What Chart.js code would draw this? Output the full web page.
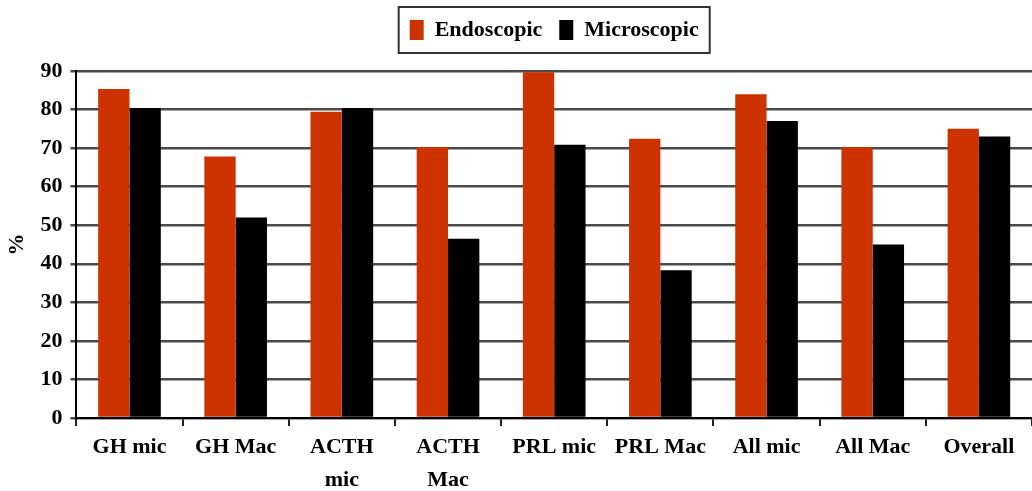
<!DOCTYPE html>
<html>
<head>
<meta charset="utf-8">
<script src="https://cdn.jsdelivr.net/npm/chart.js@4/dist/chart.umd.min.js"></script>
<style>
  html, body { margin: 0; padding: 0; background: #fff; }
  #wrap { width: 1032px; height: 491px; position: relative; }
</style>
</head>
<body>
<div id="wrap"><canvas id="myChart"></canvas></div>
<script>
// categories (multi-line labels as arrays)
const categories = ['GH mic', 'GH Mac', ['ACTH', 'mic'], ['ACTH', 'Mac'], 'PRL mic', 'PRL Mac', 'All mic', 'All Mac', 'Overall'];
// series values (%)
const endoscopic = [85.3, 67.8, 79.4, 70.3, 89.7, 72.4, 84, 70.3, 75];
const microscopic = [80.4, 52, 80.4, 46.5, 70.9, 38.3, 77, 45, 73];
const yTicks = [0, 10, 20, 30, 40, 50, 60, 70, 80, 90];

const serif = '"Liberation Serif", "Times New Roman", serif';

// extra room below the legend, and legend centred over the plot area
const legendTweak = {
    id: 'legendTweak',
    beforeInit(chart)
    {
        const fit = chart.legend.fit;
        chart.legend.fit = function ()
        {
            fit.call(this);
            this.height += 20;
        };
    },
    afterLayout(chart)
    {
        const lg = chart.legend;
        const shift = (chart.chartArea.left + chart.chartArea.right) / 2 - (lg.left + lg.right) / 2;
        lg.left += shift;
        lg.right += shift;
        lg.legendHitBoxes.forEach(b => { b.left += shift; });
    },
    afterDraw(chart)
    {
        const boxes = chart.legend.legendHitBoxes;
        if (!boxes || !boxes.length) return;
        const left = Math.min(...boxes.map(b => b.left)) - 11;
        const right = Math.max(...boxes.map(b => b.left + b.width)) + 11;
        const top = Math.min(...boxes.map(b => b.top)) - 12;
        const bottom = Math.max(...boxes.map(b => b.top + b.height)) + 12;
        const ctx = chart.ctx;
        ctx.save();
        ctx.strokeStyle = '#333';
        ctx.lineWidth = 2;
        ctx.strokeRect(left, top, right - left, bottom - top);
        ctx.restore();
    }
};

const ctx = document.getElementById('myChart').getContext('2d');
new Chart(ctx, {
    type: 'bar',
    data: {
        labels: categories,
        datasets: [
            {
                label: 'Endoscopic',
                data: endoscopic,
                backgroundColor: '#cc3300',
                barPercentage: 1,
                categoryPercentage: 0.59,
            },
            {
                label: 'Microscopic',
                data: microscopic,
                backgroundColor: '#000000',
                barPercentage: 1,
                categoryPercentage: 0.59,
            },
        ],
    },
    options: {
        responsive: true,
        maintainAspectRatio: false,
        animation: false,
        layout: { padding: { top: 2, right: 0, left: 2, bottom: -11 } },
        plugins: {
            legend: {
                position: 'top',
                labels: {
                    color: '#000',
                    font: { family: serif, size: 22, weight: 'bold' },
                    boxWidth: 14,
                    boxHeight: 20,
                    padding: 17,
                },
            },
            tooltip: { enabled: false },
        },
        scales: {
            x: {
                grid: {
                    display: true,
                    drawOnChartArea: false,
                    drawTicks: true,
                    tickLength: 8,
                    color: '#222',
                    lineWidth: 2,
                },
                border: { color: '#000', width: 2 },
                ticks: {
                    color: '#000',
                    maxRotation: 0,
                    autoSkip: false,
                    padding: 5,
                    font: { family: serif, size: 22, weight: 'bold', lineHeight: 1.5 },
                },
            },
            y: {
                min: 0,
                max: 90,
                afterBuildTicks: axis => { axis.ticks = yTicks.map(v => ({ value: v })); },
                grid: {
                    color: '#4a4a4a',
                    lineWidth: 2.5,
                    tickLength: 6,
                },
                border: { color: '#000', width: 2 },
                ticks: {
                    color: '#000',
                    padding: 8,
                    font: { family: serif, size: 22, weight: 'bold' },
                },
                title: {
                    display: true,
                    text: '%',
                    color: '#000',
                    padding: 2,
                    font: { family: serif, size: 22, weight: 'bold' },
                },
            },
        },
    },
    plugins: [legendTweak],
});
</script>
</body>
</html>
